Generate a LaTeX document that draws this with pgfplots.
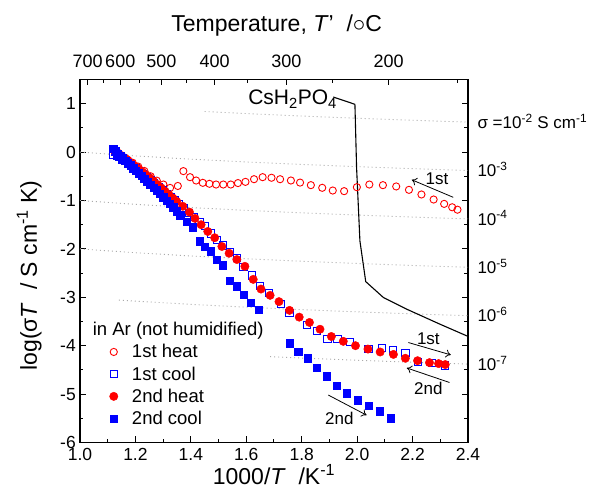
\documentclass[border=0pt]{standalone}
\usepackage{fontspec}
\setmainfont{Liberation Sans}
\usepackage{pgfplots}
\pgfplotsset{compat=1.18}
\usetikzlibrary{arrows.meta}
\definecolor{myred}{RGB}{255,0,0}
\definecolor{myblue}{RGB}{0,0,255}
\definecolor{dotgray}{RGB}{170,170,170}
\begin{document}
\begin{tikzpicture}
\begin{axis}[name=ax, scale only axis, width=388pt, height=363pt,
  xmin=1, xmax=2.4, ymin=-6, ymax=1.5, clip=false,
  xtick={1,1.2,1.4,1.6,1.8,2,2.2,2.4},
  xticklabels={1.0,1.2,1.4,1.6,1.8,2.0,2.2,2.4},
  minor xtick={1.1,1.3,1.5,1.7,1.9,2.1,2.3},
  ytick={-6,-5,-4,-3,-2,-1,0,1},
  yticklabels={-6,-5,-4,-3,-2,-1,0,1},
  minor ytick={-5.5,-4.5,-3.5,-2.5,-1.5,-0.5,0.5,1.5},
  xtick pos=left, ytick pos=both,
  tick align=inside, major tick length=6pt, minor tick length=3.5pt,
  tick style={black, line width=1pt},
  axis line style={black, line width=1.2pt},
  ticklabel style={font=\fontsize{17.5}{20}\selectfont},
  xticklabel style={yshift=-5.5pt, inner sep=0pt},
  yticklabel style={inner sep=0pt, xshift=-4pt},
  legend style={draw=none, fill=none, at={(axis cs:1.106,-3.93)}, anchor=north west,
    font=\fontsize{18.5}{21}\selectfont, row sep=3.3pt, column sep=12pt, inner sep=0pt},
  legend cell align=left,
]
% constant-sigma reference lines
\addplot[forget plot, dotgray, line width=0.9pt, dash pattern=on 1pt off 3pt] coordinates {(1.45,0.8386)(1.6,0.7959)(1.8,0.7447)(2.0,0.6990)(2.2,0.6576)(2.4,0.6198)};
\addplot[forget plot, dotgray, line width=0.9pt, dash pattern=on 1pt off 3pt] coordinates {(1.0,0)(1.2,-0.0792)(1.4,-0.1461)(1.6,-0.2041)(1.8,-0.2553)(2.0,-0.3010)(2.2,-0.3424)(2.4,-0.3802)};
\addplot[forget plot, dotgray, line width=0.9pt, dash pattern=on 1pt off 3pt] coordinates {(1.0,-1)(1.2,-1.0792)(1.4,-1.1461)(1.6,-1.2041)(1.8,-1.2553)(2.0,-1.3010)(2.2,-1.3424)(2.4,-1.3802)};
\addplot[forget plot, dotgray, line width=0.9pt, dash pattern=on 1pt off 3pt] coordinates {(1.0,-2)(1.2,-2.0792)(1.4,-2.1461)(1.6,-2.2041)(1.8,-2.2553)(2.0,-2.3010)(2.2,-2.3424)(2.4,-2.3802)};
\addplot[forget plot, dotgray, line width=0.9pt, dash pattern=on 1pt off 3pt] coordinates {(1.14,-3.0569)(1.2,-3.0792)(1.4,-3.1461)(1.6,-3.2041)(1.8,-3.2553)(2.0,-3.3010)(2.2,-3.3424)(2.4,-3.3802)};
\addplot[forget plot, dotgray, line width=0.9pt, dash pattern=on 1pt off 3pt] coordinates {(1.686,-4.2269)(1.8,-4.2553)(2.0,-4.3010)(2.2,-4.3424)(2.4,-4.3802)};
% CsH2PO4
\addplot[forget plot, black, line width=1.1pt] coordinates {(1.914,1.138)(1.992,0.987)(1.998,-0.322)(2.010,-1.836)(2.031,-2.676)(2.095,-3.006)(2.179,-3.246)(2.299,-3.556)(2.400,-3.808)};
% 1st heat
\addplot[only marks, mark=o, mark size=3.6pt, myred, line width=0.9pt] coordinates {
(1.130,0.00)(1.150,-0.08)(1.170,-0.15)(1.190,-0.22)(1.210,-0.30)(1.232,-0.39)
(1.255,-0.50)(1.277,-0.59)(1.301,-0.67)(1.325,-0.74)(1.353,-0.70)
(1.373,-0.393)(1.397,-0.518)(1.419,-0.587)(1.443,-0.635)(1.467,-0.655)(1.491,-0.67)
(1.517,-0.67)(1.544,-0.67)(1.570,-0.64)(1.597,-0.615)(1.628,-0.56)(1.659,-0.518)
(1.691,-0.53)(1.722,-0.56)(1.761,-0.587)(1.794,-0.63)(1.833,-0.683)(1.874,-0.738)
(1.912,-0.794)(1.953,-0.807)(1.999,-0.725)(2.044,-0.67)(2.093,-0.683)(2.141,-0.71)
(2.187,-0.78)(2.232,-0.876)(2.276,-0.98)(2.314,-1.07)(2.343,-1.14)(2.362,-1.19)};
\addlegendentry{1st heat}
% 1st cool
\addplot[only marks, mark=square, mark size=3.6pt, myblue, line width=0.9pt] coordinates {
(1.118,-0.05)(1.125,0.00)(1.132,-0.07)(1.142,-0.10)(1.152,-0.15)(1.163,-0.18)
(1.175,-0.24)(1.188,-0.28)(1.200,-0.34)(1.213,-0.40)(1.226,-0.45)(1.240,-0.52)
(1.254,-0.58)(1.268,-0.64)(1.283,-0.72)(1.298,-0.79)(1.313,-0.86)(1.328,-0.93)
(1.343,-1.00)(1.358,-1.07)(1.375,-1.16)(1.393,-1.25)(1.412,-1.34)(1.431,-1.44)
(1.451,-1.53)(1.472,-1.68)(1.494,-1.82)(1.517,-1.93)(1.541,-2.06)(1.566,-2.19)
(1.590,-2.38)(1.620,-2.55)(1.650,-2.77)(1.683,-2.91)(1.724,-3.13)(1.756,-3.33)
(1.818,-3.57)(1.854,-3.69)(1.893,-3.86)(1.929,-3.86)(1.975,-3.93)(2.041,-4.07)
(2.089,-4.04)(2.130,-4.10)(2.174,-4.15)(2.218,-4.33)(2.270,-4.35)(2.318,-4.41)};
\addlegendentry{1st cool}
% 2nd heat
\addplot[only marks, mark=*, mark size=4.2pt, myred] coordinates {
(1.125,0.03)(1.137,-0.02)(1.149,-0.07)(1.161,-0.12)(1.173,-0.17)(1.186,-0.23)
(1.199,-0.29)(1.212,-0.35)(1.225,-0.41)(1.238,-0.47)(1.251,-0.53)(1.265,-0.60)
(1.279,-0.67)(1.293,-0.74)(1.307,-0.81)(1.321,-0.88)(1.335,-0.95)(1.349,-1.02)
(1.371,-1.12)(1.395,-1.24)(1.415,-1.37)(1.437,-1.50)(1.461,-1.64)(1.486,-1.77)
(1.512,-1.95)(1.538,-2.09)(1.566,-2.22)(1.595,-2.36)(1.625,-2.63)(1.653,-2.83)
(1.686,-2.96)(1.718,-3.09)(1.756,-3.27)(1.791,-3.41)(1.828,-3.52)(1.866,-3.66)
(1.907,-3.81)(1.950,-3.91)(1.994,-4.00)(2.039,-4.07)(2.083,-4.13)(2.131,-4.18)
(2.174,-4.26)(2.218,-4.31)(2.261,-4.35)(2.294,-4.37)(2.318,-4.39)};
\addlegendentry{2nd heat}
% 2nd cool
\addplot[only marks, mark=square*, mark size=3.7pt, myblue] coordinates {
(1.120,0.07)(1.128,0.02)(1.136,-0.03)(1.145,-0.08)(1.154,-0.13)(1.163,-0.18)
(1.172,-0.22)(1.182,-0.27)(1.192,-0.33)(1.202,-0.38)(1.212,-0.44)(1.222,-0.49)
(1.232,-0.55)(1.243,-0.61)(1.254,-0.67)(1.265,-0.73)(1.276,-0.79)(1.288,-0.86)
(1.300,-0.93)(1.312,-1.00)(1.324,-1.07)(1.337,-1.14)(1.349,-1.22)(1.361,-1.30)
(1.385,-1.44)(1.407,-1.55)(1.431,-1.84)(1.451,-1.95)(1.472,-2.05)(1.493,-2.22)
(1.515,-2.34)(1.541,-2.66)(1.566,-2.77)(1.590,-2.95)(1.617,-3.11)(1.644,-3.26)
(1.756,-3.95)(1.788,-4.13)(1.821,-4.26)(1.854,-4.45)(1.890,-4.63)(1.927,-4.83)
(1.963,-4.98)(2.001,-5.13)(2.042,-5.24)(2.081,-5.35)(2.121,-5.50)};
\addlegendentry{2nd cool}
% annotations
\node[font=\fontsize{18.5}{21}\selectfont, anchor=west, inner sep=0pt] at (axis cs:1.0458,-3.694) {in Ar (not humidified)};
\node[font=\fontsize{21}{24}\selectfont, anchor=base east, inner sep=0pt] at (axis cs:1.9275,0.973) {CsH\textsubscript{2}PO\textsubscript{4}};
\draw[-{To[length=5pt,width=8pt]}, line width=0.8pt] (axis cs:2.347,-0.935) -- (axis cs:2.197,-0.572);
\node[font=\fontsize{17}{20}\selectfont] at (axis cs:2.288,-0.555) {1st};
\draw[-{To[length=5pt,width=8pt]}, line width=0.8pt] (axis cs:2.185,-3.935) -- (axis cs:2.338,-4.19);
\node[font=\fontsize{17}{20}\selectfont] at (axis cs:2.257,-3.85) {1st};
\draw[-{To[length=5pt,width=8pt]}, line width=0.8pt] (axis cs:2.333,-4.76) -- (axis cs:2.179,-4.46);
\node[font=\fontsize{17}{20}\selectfont] at (axis cs:2.257,-4.88) {2nd};
\draw[-{To[length=5pt,width=8pt]}, line width=0.8pt] (axis cs:1.896,-5.02) -- (axis cs:2.034,-5.435);
\node[font=\fontsize{17}{20}\selectfont] at (axis cs:1.936,-5.50) {2nd};
% right-hand sigma labels
\node[font=\fontsize{17}{20}\selectfont, anchor=base west, xshift=6pt] at (axis cs:2.4,0.49) {σ =10\textsuperscript{-2} S cm\textsuperscript{-1}};
\node[font=\fontsize{17}{20}\selectfont, anchor=base west, xshift=6pt] at (axis cs:2.4,-0.51) {10\textsuperscript{-3}};
\node[font=\fontsize{17}{20}\selectfont, anchor=base west, xshift=6pt] at (axis cs:2.4,-1.51) {10\textsuperscript{-4}};
\node[font=\fontsize{17}{20}\selectfont, anchor=base west, xshift=6pt] at (axis cs:2.4,-2.51) {10\textsuperscript{-5}};
\node[font=\fontsize{17}{20}\selectfont, anchor=base west, xshift=6pt] at (axis cs:2.4,-3.51) {10\textsuperscript{-6}};
\node[font=\fontsize{17}{20}\selectfont, anchor=base west, xshift=6pt] at (axis cs:2.4,-4.51) {10\textsuperscript{-7}};
% axis titles
\node[font=\fontsize{23}{27}\selectfont, anchor=base] at ([yshift=48pt]axis description cs:0.507,1) {Temperature, \textit{T}'\ \ /$\circ$C};
\node[font=\fontsize{23}{27}\selectfont, anchor=base] at ([yshift=-42pt]axis description cs:0.5,0) {1000/\textit{T}\ \ /K\textsuperscript{-1}};
\node[font=\fontsize{23}{27}\selectfont, anchor=base, rotate=90] at ([xshift=-43pt]axis description cs:0,0.46) {log(σ\textit{T}\ \ / S cm\textsuperscript{-1} K)};
\end{axis}
\begin{axis}[scale only axis, width=388pt, height=363pt,
  xmin=1, xmax=2.4, ymin=-6, ymax=1.5,
  axis x line*=top, axis y line=none,
  xtick={1.02759,1.14528,1.29341,1.48555,1.74474,2.11350},
  xticklabels={700,600,500,400,300,200},
  minor xtick={1.08325,1.21485,1.38284,1.60475,1.91150,2.36323},
  tick align=inside, major tick length=6pt, minor tick length=3.5pt,
  tick style={black, line width=1pt},
  axis line style={black, line width=1.2pt},
  ticklabel style={font=\fontsize{18}{21}\selectfont},
  xticklabel style={yshift=8pt},
]
\addplot[draw=none, forget plot] coordinates {(1.5,0)};
\end{axis}
\pgfresetboundingbox
\useasboundingbox ([xshift=-80pt,yshift=-50.5pt]ax.south west) rectangle ([xshift=122pt,yshift=79.5pt]ax.north east);
\end{tikzpicture}
\end{document}
